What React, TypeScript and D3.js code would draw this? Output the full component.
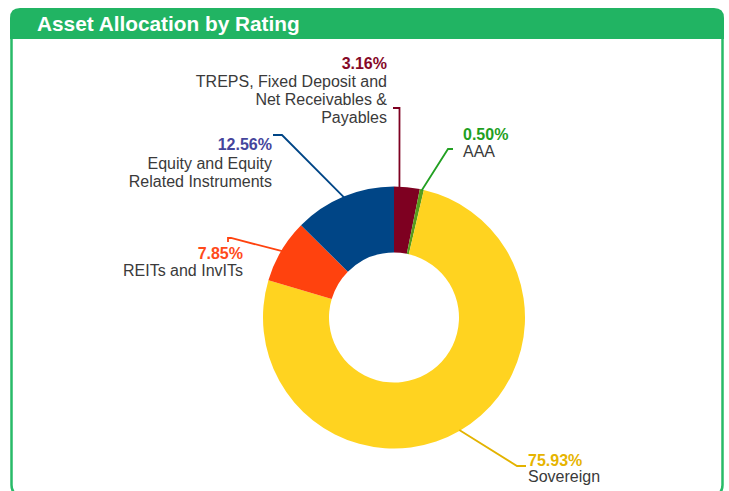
import React from "react";
import * as d3 from "d3";

const categories = [
  ["TREPS, Fixed Deposit and", "Net Receivables &", "Payables"],
  ["AAA"],
  ["Sovereign"],
  ["REITs and InvITs"],
  ["Equity and Equity", "Related Instruments"],
];
const values = [3.16, 0.5, 75.93, 7.85, 12.56];
const sliceColors = ["#7e0021", "#579d1c", "#ffd320", "#ff420e", "#004586"];
const pctColors = ["#850827", "#1fa01f", "#e6b400", "#ff4a1a", "#45459c"];
const leaderColors = ["#7e0021", "#22a022", "#e3b300", "#ff420e", "#004586"];

// label layout: text anchor, x, percent baseline, line baselines, leader polyline start, optional anchor angle override (deg)
const labelLayout = [
  { anchor: "end", x: 387, y: 69, lines: [87, 105, 123], leader: [[393, 108], [399.5, 108]], angle: 2.4 },
  { anchor: "start", x: 463, y: 140, lines: [157], leader: [[453, 149], [448, 149]] },
  { anchor: "start", x: 528, y: 466, lines: [482], leader: [[526, 466], [517, 466]] },
  { anchor: "end", x: 243, y: 259, lines: [276], leader: [[228, 242], [228, 238], [231, 238]] },
  { anchor: "end", x: 272, y: 150, lines: [169, 187], leader: [[273, 135], [282, 135]] },
];

const W = 729;
const H = 491;
const cx = 394;
const cy = 317.5;
const R = 131;
const r = 65;
const FONT = "'Liberation Sans', Arial, sans-serif";

export default function App() {
  const pie = d3.pie<number>().sort(null).value((d) => d).startAngle(0).endAngle(2 * Math.PI);
  const arcs = pie(values);
  const arcGen = d3.arc<d3.PieArcDatum<number>>().innerRadius(r).outerRadius(R);

  const frameX0 = 11.5, frameX1 = 722.5, frameY0 = 8, frameY1 = 495, rad = 10;
  const headerH = 31;

  return (
    <svg width={W} height={H} style={{ position: "absolute", left: 0, top: 0 }} fontFamily={FONT}>
      <rect x={0} y={0} width={W} height={H} fill="#fff" />
      {/* frame */}
      <path
        d={`M${frameX0},${frameY0 + rad} L${frameX0},${frameY1 - rad} Q${frameX0},${frameY1} ${frameX0 + rad},${frameY1} L${frameX1 - rad},${frameY1} Q${frameX1},${frameY1} ${frameX1},${frameY1 - rad} L${frameX1},${frameY0 + rad}`}
        fill="none"
        stroke="#28bb68"
        strokeWidth={2.5}
      />
      <path
        d={`M10,${frameY0 + headerH} L10,${frameY0 + rad} Q10,${frameY0} ${10 + rad},${frameY0} L${724 - rad},${frameY0} Q724,${frameY0} 724,${frameY0 + rad} L724,${frameY0 + headerH} Z`}
        fill="#21b463"
      />
      <text x={37} y={31} fill="#fff" fontSize={20.8} fontWeight="bold">
        Asset Allocation by Rating
      </text>

      <g transform={`translate(${cx},${cy})`}>
        {arcs.map((a, i) => (
          <path key={i} d={arcGen(a) || ""} fill={sliceColors[i]} />
        ))}
      </g>

      {arcs.map((a, i) => {
        const L = labelLayout[i];
        const ang = L.angle !== undefined ? (L.angle * Math.PI) / 180 : (a.startAngle + a.endAngle) / 2;
        const px = cx + (R - 1) * Math.sin(ang);
        const py = cy - (R - 1) * Math.cos(ang);
        const pts = [...L.leader, [px, py]] as [number, number][];
        return (
          <g key={i}>
            <path d={d3.line()(pts) || ""} fill="none" stroke={leaderColors[i]} strokeWidth={1.8} />
            <text x={L.x} y={L.y} textAnchor={L.anchor as any} fill={pctColors[i]} fontSize={16} fontWeight="bold">
              {values[i].toFixed(2)}%
            </text>
            {categories[i].map((t, j) => (
              <text key={j} x={L.x} y={L.lines[j]} textAnchor={L.anchor as any} fill="#3a3a3a" fontSize={16}>
                {t}
              </text>
            ))}
          </g>
        );
      })}
    </svg>
  );
}
